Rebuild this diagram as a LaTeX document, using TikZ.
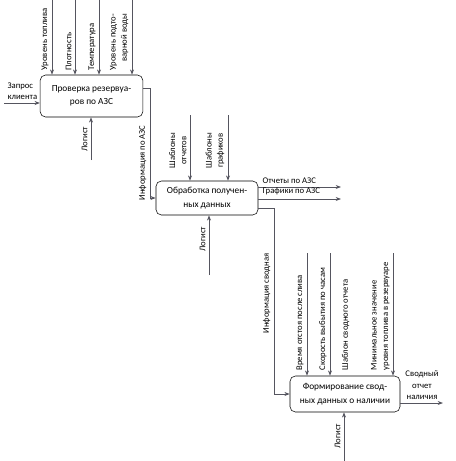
\documentclass[tikz,border=0pt]{standalone}
\usepackage{fontspec}
\setmainfont{Carlito}
\usetikzlibrary{arrows.meta,positioning}
\definecolor{linegray}{RGB}{85,85,95}
\tikzset{
  func/.style={rectangle,draw=black,fill=white,rounded corners=4pt,align=center,
    minimum width=#1,minimum height=2.2em,inner sep=1pt,font=\fontsize{7}{10}\selectfont},
  func/.default=78pt,
  arr/.style={-{Stealth[length=4pt,width=3pt]},draw=linegray,line width=0.6pt},
  lbl/.style={font=\fontsize{6.5}{8.5}\selectfont,inner sep=1pt},
  vlbl/.style={lbl,rotate=90,anchor=south west,align=left}
}
\begin{document}
\begin{tikzpicture}[x=0.75pt,y=-0.75pt]
    \useasboundingbox (0,0) rectangle (456,461);

    % Functions
    \node[func=77pt,minimum height=31.5pt] (chk) at (91.5,96) {Проверка резервуа-\\ров по АЗС};
    \node[func=76.5pt,minimum height=25.5pt] (proc) at (207,198) {Обработка получен-\\ных данных};
    \node[func=82.5pt,minimum height=27pt] (summ) at (345,394) {Формирование свод-\\ных данных о наличии};

    % Free ends
    \coordinate (req) at (4,103);
    \coordinate (c1) at (52,0);
    \coordinate (c2) at (75,0);
    \coordinate (c3) at (99,0);
    \coordinate (c4) at (132,0);
    \coordinate (m1) at (91,160);
    \coordinate (j1) at (150,88);
    \coordinate (c5) at (190,115);
    \coordinate (c6) at (228,115);
    \coordinate (m2) at (209,275);
    \coordinate (o1) at (341,187);
    \coordinate (o2) at (341,199);
    \coordinate (j2) at (274,208);
    \coordinate (c7) at (307,253);
    \coordinate (c8) at (330,253);
    \coordinate (c9) at (393,253);
    \coordinate (m3) at (344,461);
    \coordinate (o3) at (443,403);

    % Check of tanks
    \draw[arr] (req) -- (req -| chk.west);
    \draw[arr] (c1) -- (c1 |- chk.north);
    \draw[arr] (c2) -- (c2 |- chk.north);
    \draw[arr] (c3) -- (c3 |- chk.north);
    \draw[arr] (c4) -- (c4 |- chk.north);
    \draw[arr] (m1) -- (m1 |- chk.south);
    \node[lbl,anchor=south west,align=left] at (6,101) {Запрос\\клиента};
    \node[vlbl] at (50,72) {Уровень топлива};
    \node[vlbl] at (73,72) {Плотность};
    \node[vlbl] at (97,72) {Температура};
    \node[vlbl,align=right] at (130,72) {Уровень подто-\\варной воды};
    \node[vlbl] at (89,153) {Логист};

    % Processing
    \draw[arr] (j1 -| chk.east) -- (j1) |- (proc.west);
    \draw[arr] (c5) -- (c5 |- proc.north);
    \draw[arr] (c6) -- (c6 |- proc.north);
    \draw[arr] (m2) -- (m2 |- proc.south);
    \draw[arr] (o1 -| proc.east) -- (o1);
    \draw[arr] (o2 -| proc.east) -- (o2);
    \node[vlbl] at (148,202) {Информация по АЗС};
    \node[vlbl,align=center] at (188,170) {Шаблоны\\отчетов};
    \node[vlbl,align=center] at (226,170) {Шаблоны\\графиков};
    \node[vlbl] at (207,253) {Логист};
    \node[lbl,anchor=south west] at (261,185) {Отчеты по АЗС};
    \node[lbl,anchor=south west] at (261,197) {Графики по АЗС};

    % Summary
    \draw[arr] (j2 -| proc.east) -- (j2) |- (summ.west);
    \draw[arr] (c7) -- (c7 |- summ.north);
    \draw[arr] (c8) -- (c8 |- summ.north);
    \draw[arr] (c9) -- (c9 |- summ.north);
    \draw[arr] (m3) -- (m3 |- summ.south);
    \draw[arr] (o3 -| summ.east) -- (o3);
    \node[vlbl] at (272,335) {Информация сводная};
    \node[vlbl] at (305,372) {Время отстоя после слива};
    \node[vlbl] at (328,372) {Скорость выбытия по часам};
    \node[vlbl] at (351,372) {Шаблон сводного отчета};
    \node[vlbl] at (391,372) {Минимальное значение\\уровня топлива в резервуаре};
    \node[vlbl] at (342,450) {Логист};
    \node[lbl,anchor=south,align=center] at (422,401) {Сводный\\отчет\\наличия};
  \end{tikzpicture}
\end{document}
